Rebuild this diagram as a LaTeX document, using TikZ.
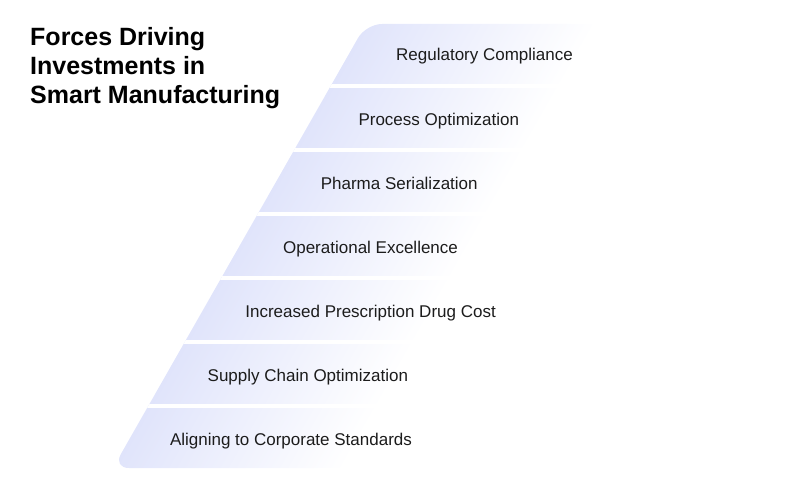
\documentclass[tikz,border=0pt]{standalone}
\usepackage{fontspec}
\setmainfont{Liberation Sans}
\usetikzlibrary{calc}

\definecolor{bandlav}{RGB}{224,228,251}
\definecolor{inkgray}{RGB}{28,28,28}
\pgfdeclarehorizontalshading{bandfade}{100bp}{color(0bp)=(bandlav); color(25bp)=(bandlav);
  color(45bp)=(white); color(100bp)=(white)}

\begin{document}
\begin{tikzpicture}[x=1pt, y=-1pt,
  every node/.style={font=\fontsize{17}{20}\selectfont, text=inkgray, inner sep=0pt},
  forcetext/.style={anchor=base west}
]
\useasboundingbox (0,0) rectangle (800,500);
\def\topY{24} \def\bandH{60} \def\gapH{4} \def\slope{0.57} \def\edgeX{366} \def\textStep{37.7}
\pgfmathsetmacro\botY{\topY+7*\bandH+6*\gapH}
\pgfmathsetmacro\slant{atan(\slope)}
% stacked bands: one fade across the slanted block, white gaps between
\begin{scope}
  \clip[rounded corners=16pt] (\edgeX,\topY) -- (800,\topY) -- (800,\botY)
    -- ({\edgeX-\slope*(\botY-\topY)},\botY) -- cycle;
  \begin{scope}[transform canvas={shift={(\edgeX,\topY)}, rotate=-\slant}]
    \shade[shading=bandfade] (0,-700) rectangle (500,700);
  \end{scope}
  \foreach \i in {1,...,6}{
    \pgfmathsetmacro\yg{\topY+\i*(\bandH+\gapH)-\gapH}
    \fill[white] ({\edgeX-\slope*(\yg-\topY)-10},\yg) rectangle (800,{\yg+\gapH});
  }
\end{scope}
\foreach \i/\txt in {0/Regulatory Compliance, 1/Process Optimization, 2/Pharma Serialization,
  3/Operational Excellence, 4/Increased Prescription Drug Cost, 5/Supply Chain Optimization,
  6/Aligning to Corporate Standards}{
  \node[forcetext] (force\i) at ({\edgeX+30-\textStep*\i},{\topY+\i*(\bandH+\gapH)+37}) {\txt};
}
\node[anchor=north west, align=left, text=black, font=\bfseries\fontsize{25}{29}\selectfont]
  (title) at (30,27) {Forces Driving\\Investments in\\Smart Manufacturing};
\end{tikzpicture}
\end{document}
